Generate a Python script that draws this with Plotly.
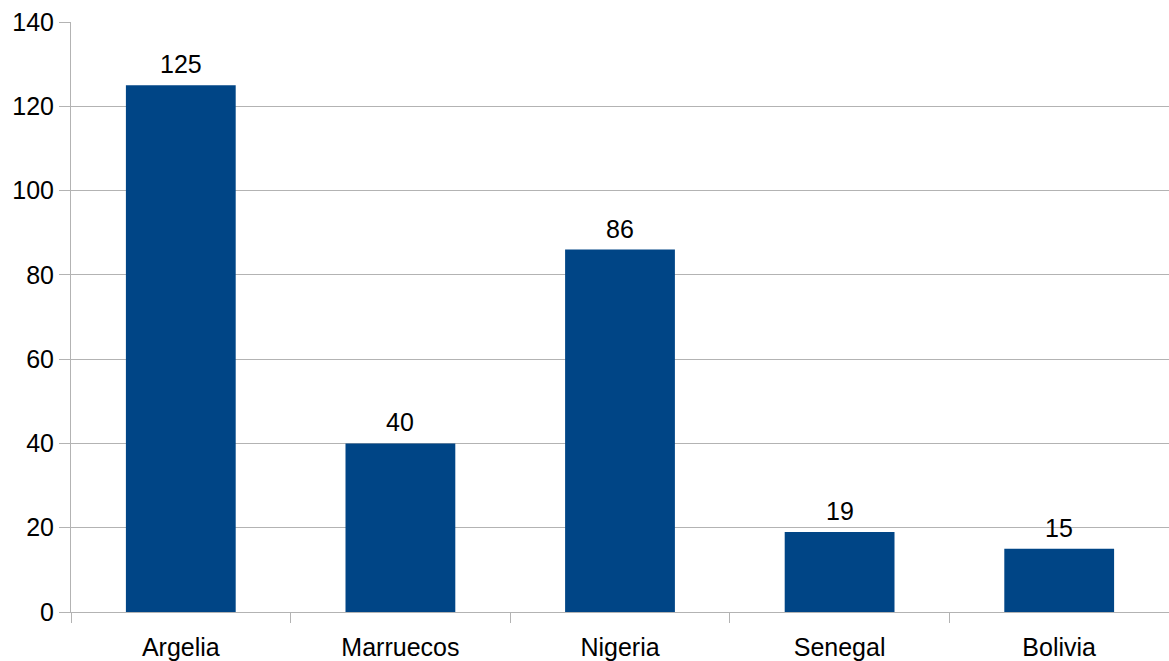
import plotly.graph_objects as go

categories = ["Argelia", "Marruecos", "Nigeria", "Senegal", "Bolivia"]
values = [125, 40, 86, 19, 15]
y_ticks = [0, 20, 40, 60, 80, 100, 120, 140]

FONT = "Liberation Sans, Arial, sans-serif"
GRID = "#b3b3b3"
FS = 25

fig = go.Figure(
    go.Bar(
        x=categories,
        y=values,
        width=0.5,
        marker=dict(color="#004586", line=dict(width=0)),
        cliponaxis=False,
    )
)

for c, v in zip(categories, values):
    fig.add_annotation(
        x=c, y=v, xref="x", yref="y",
        text=str(v), showarrow=False,
        yanchor="bottom", yshift=6, borderpad=0,
        font=dict(family=FONT, size=FS, color="#000000"),
    )

fig.update_layout(
    width=1169,
    height=661,
    margin=dict(l=71, r=0, t=22, b=49),
    paper_bgcolor="white",
    plot_bgcolor="white",
    showlegend=False,
    font=dict(family=FONT, size=FS, color="#000000"),
)

fig.update_xaxes(
    showgrid=False,
    showline=True,
    linecolor=GRID,
    linewidth=1,
    ticks="outside",
    tickson="boundaries",
    ticklen=10,
    tickcolor=GRID,
    ticklabelstandoff=13,
    tickfont=dict(family=FONT, size=FS, color="#000000"),
    zeroline=False,
)

fig.update_yaxes(
    range=[0, 140],
    tickvals=y_ticks,
    showgrid=True,
    gridcolor=GRID,
    gridwidth=1,
    showline=True,
    linecolor=GRID,
    linewidth=1,
    ticks="outside",
    ticklen=11,
    tickcolor=GRID,
    tickfont=dict(family=FONT, size=FS, color="#000000"),
    zeroline=False,
)

fig.write_html("out.html")
